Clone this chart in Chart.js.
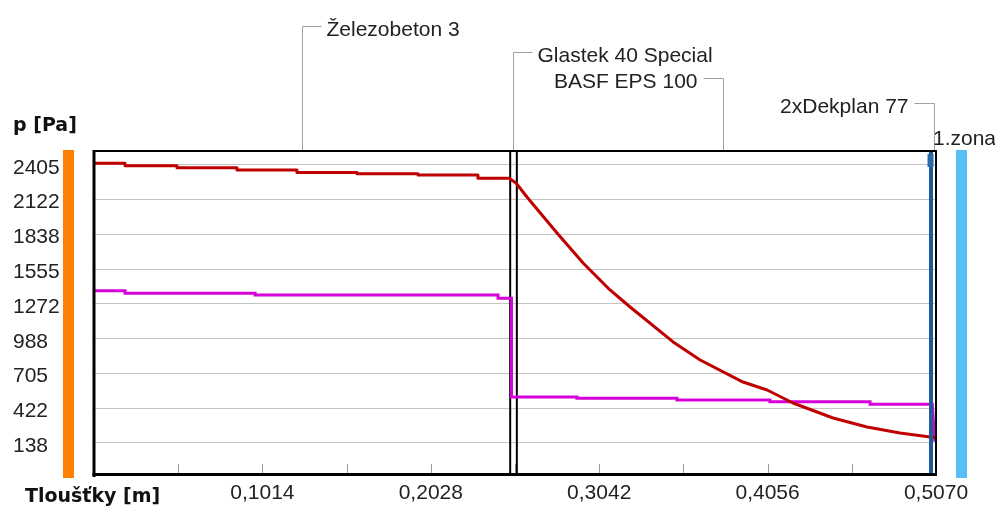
<!DOCTYPE html>
<html><head><meta charset="utf-8">
<script src="https://cdn.jsdelivr.net/npm/chart.js@4/dist/chart.umd.min.js"></script>
<style>html,body{margin:0;padding:0;background:#fff;} #c{display:block;}</style>
</head><body>
<canvas id="c" width="995" height="509"></canvas>
<script>
// ---- data ----
const layerNames = ['Železobeton 3', 'Glastek 40 Special', 'BASF EPS 100', '2xDekplan 77'];
const layerBounds = [0, 0.25, 0.254, 0.504, 0.507];
const yTickValues = [138, 422, 705, 988, 1272, 1555, 1838, 2122, 2405];
const xTickValues = [0.1014, 0.2028, 0.3042, 0.4056, 0.5070];
const xMarkValues = [0.0507, 0.1014, 0.1521, 0.2028, 0.2535, 0.3042, 0.3549, 0.4056, 0.4563];
const yAxisTitle = 'p [Pa]';
const xAxisTitle = 'Tloušťky [m]';
const zoneLabel = '1.zona';

const redX = [0, 0.0187, 0.0187, 0.0500, 0.0500, 0.0861, 0.0861, 0.1222, 0.1222, 0.1584, 0.1584, 0.1951, 0.1951, 0.2312, 0.2312, 0.2500, 0.2541, 0.2607, 0.2788, 0.2945, 0.3107, 0.3228, 0.3487, 0.3650, 0.3908, 0.4053, 0.4209, 0.4450, 0.4655, 0.4853, 0.5034, 0.5070];
const redP = [2419, 2419, 2399, 2399, 2383, 2383, 2364, 2364, 2344, 2344, 2334, 2334, 2323, 2323, 2297, 2297, 2258, 2144, 1850, 1606, 1386, 1247, 962, 815, 635, 570, 464, 342, 268, 220, 187, 180];

const magX = [0, 0.0187, 0.0187, 0.0970, 0.0970, 0.2433, 0.2433, 0.2514, 0.2514, 0.2908, 0.2908, 0.3510, 0.3510, 0.4070, 0.4070, 0.4673, 0.4673, 0.5048, 0.5062, 0.5070];
const magP = [1380, 1380, 1359, 1359, 1345, 1345, 1318, 1318, 513, 513, 502, 502, 489, 489, 475, 475, 454, 454, 160, 155];

// ---- drawing ----
const FONT = 'Liberation Sans';
const decor = {
  id: 'decor',
  beforeDatasetsDraw(chart) {
    const {ctx, chartArea: a, scales: {x}} = chart;
    ctx.save();
    // inner tick marks on x axis
    ctx.strokeStyle = '#9a9a9a'; ctx.lineWidth = 1;
    xMarkValues.forEach(v => {
      const px = Math.round(x.getPixelForValue(v)) + 0.5;
      ctx.beginPath(); ctx.moveTo(px, a.bottom); ctx.lineTo(px, a.bottom - 11); ctx.stroke();
    });
    // black layer boundaries
    ctx.fillStyle = '#000';
    [1, 2].forEach(i => {
      const px = x.getPixelForValue(layerBounds[i]);
      ctx.fillRect(px, a.top - 1, 2, a.bottom - a.top + 2);
    });
    ctx.restore();
  },
  afterDatasetsDraw(chart) {
    const {ctx, chartArea: a, scales: {x}} = chart;
    ctx.save();
    // waterproofing boundary (blue)
    const bx = x.getPixelForValue(layerBounds[3]);
    ctx.fillStyle = '#1d5c9a';
    ctx.fillRect(bx - 2, a.top, 4, a.bottom - a.top);
    ctx.fillStyle = '#2a6aab';
    ctx.fillRect(bx - 3.5, a.top + 3, 6, 13);
    // plot frame
    ctx.fillStyle = '#000';
    ctx.fillRect(a.left - 1, a.top - 1, a.right - a.left + 2, 2);   // top
    ctx.fillRect(a.right - 1, a.top - 1, 2, a.bottom - a.top + 2);  // right
    ctx.fillRect(a.left - 1.5, a.top - 1, 3, a.bottom - a.top + 3); // left
    ctx.fillRect(a.left - 1.5, a.bottom - 2, a.right - a.left + 2.5, 3); // bottom
    // zone bars
    ctx.fillStyle = '#ff8000';
    ctx.fillRect(63, a.top - 1, 11, a.bottom - a.top + 4);
    ctx.fillStyle = '#57bef6';
    ctx.fillRect(956, a.top - 1, 11, a.bottom - a.top + 4);
    // layer labels with leaders
    ctx.strokeStyle = '#a0a0a0'; ctx.lineWidth = 1;
    ctx.fillStyle = '#222';
    ctx.font = '21px "' + FONT + '"';
    ctx.textBaseline = 'alphabetic';
    layerNames.forEach((name, i) => {
      const cx = Math.round(x.getPixelForValue((layerBounds[i] + layerBounds[i + 1]) / 2)) + 0.5;
      const ly = Math.round(26 + i * 25.8) + 0.5;
      const right = i < 2;
      ctx.beginPath();
      ctx.moveTo(cx, a.top - 1); ctx.lineTo(cx, ly);
      ctx.lineTo(right ? cx + 19 : cx - 20, ly);
      ctx.stroke();
      ctx.textAlign = right ? 'left' : 'right';
      ctx.fillText(name, right ? cx + 24 : cx - 26, ly + 9);
    });
    ctx.textAlign = 'left';
    ctx.fillText(zoneLabel, 933, 145);
    // axis titles
    ctx.font = 'bold 19px "DejaVu Sans"';
    ctx.fillStyle = '#111';
    ctx.fillText(yAxisTitle, 13, 131);
    ctx.fillText(xAxisTitle, 25, 502);
    ctx.restore();
  }
};

new Chart(document.getElementById('c'), {
  type: 'line',
  data: {
    datasets: [
      { data: redX.map((v, i) => ({x: v, y: redP[i]})), borderColor: '#c00000', borderWidth: 3,
        pointRadius: 0, tension: 0, fill: false, borderJoinStyle: 'round' },
      { data: magX.map((v, i) => ({x: v, y: magP[i]})), borderColor: '#d800d8', borderWidth: 3,
        pointRadius: 0, tension: 0, fill: false }
    ]
  },
  options: {
    responsive: false, animation: false, devicePixelRatio: 1,
    layout: {padding: {left: 13, top: 151, right: 59, bottom: 0}},
    plugins: {legend: {display: false}, tooltip: {enabled: false}},
    scales: {
      x: {
        type: 'linear', min: 0, max: 0.507,
        afterBuildTicks: s => { s.ticks = xTickValues.map(v => ({value: v})); },
        afterFit: s => { s.height = 34; },
        grid: {display: false, drawTicks: false}, border: {display: false},
        ticks: {autoSkip: false, maxRotation: 0, padding: 6, color: '#222',
          font: {family: FONT, size: 21},
          callback: v => v.toFixed(4).replace('.', ',')}
      },
      y: {
        type: 'linear', min: -123, max: 2519,
        afterBuildTicks: s => { s.ticks = yTickValues.map(v => ({value: v})); },
        afterFit: s => { s.width = 81; },
        grid: {color: '#c4c4c4', lineWidth: 1, drawTicks: false}, border: {display: false},
        ticks: {crossAlign: 'far', labelOffset: 3, padding: 0, color: '#222', autoSkip: false,
          font: {family: FONT, size: 21}, callback: v => String(v)}
      }
    }
  },
  plugins: [decor]
});
</script>
</body></html>
